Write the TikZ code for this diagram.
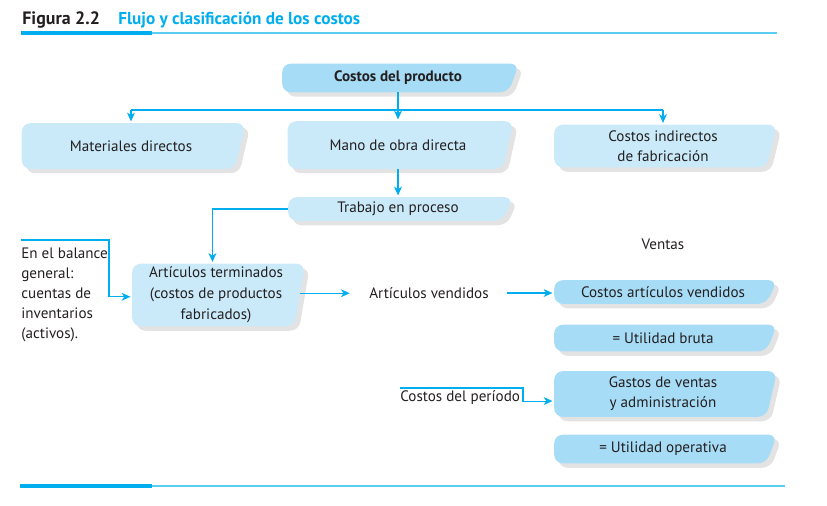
\documentclass[tikz,border=0pt]{standalone}
\usepackage{fontspec}
\setmainfont{PT Sans}
\usetikzlibrary{positioning,arrows.meta,shadows,backgrounds,calc}

\definecolor{cian}{RGB}{0,174,239}
\definecolor{celeste}{RGB}{90,205,243}
\definecolor{claro}{RGB}{202,234,249}
\definecolor{medio}{RGB}{166,220,246}
\definecolor{tinta}{RGB}{35,31,32}

% fondo de cada caja: esquina superior derecha salida, lado derecho inclinado
\newcommand{\tarjeta}[2]{%
  \fill[#2, rounded corners=5pt,
        drop shadow={shadow xshift=2.5pt,shadow yshift=-2.5pt,opacity=.22}]
    (#1.north west) -- ([xshift=3pt]#1.north east)
    -- ([xshift=-3pt]#1.south east) -- (#1.south west) -- cycle;}

\tikzset{
  caja/.style={rectangle, align=center, inner sep=1pt, text=tinta,
               minimum width=4.36cm, font=\fontsize{8.6}{11.5}\selectfont},
  texto/.style={inner sep=0pt, text=tinta, font=\fontsize{8.6}{11.5}\selectfont},
  flecha/.style={cian, line width=0.6pt, shorten >=1pt,
                 -{Stealth[length=5pt,width=4.5pt,inset=1.5pt]}},
  linea/.style={cian, line width=0.6pt}
}

\begin{document}
\begin{tikzpicture}[x=0.02cm,y=-0.02cm]
  \useasboundingbox (0,0) rectangle (827,505);

  % titulo
  \node[anchor=west, inner sep=0pt, text=tinta, font=\fontsize{10.2}{12}\selectfont\bfseries] (fig) at (22,20) {Figura 2.2};
  \node[anchor=west, inner sep=0pt, text=cian, font=\fontsize{9.8}{12}\selectfont\bfseries] (tit) at (118,20) {Flujo y clasificación de los costos};
  \draw[celeste, line width=0.8pt] (152,33) -- (777,33);
  \draw[cian, line width=1.8pt] (21,33) -- (152,33);
  \draw[celeste, line width=0.8pt] (152,486) -- (785,486);
  \draw[cian, line width=1.8pt] (20,486) -- (152,486);

  % cajas
  \node[caja, minimum width=4.62cm, minimum height=0.56cm, font=\fontsize{8.6}{11.5}\selectfont\bfseries] (prod) at (398,78) {Costos del producto};
  \node[caja, minimum height=0.9cm] (mat) at (131,146) {Materiales directos};
  \node[caja, minimum width=4.4cm, minimum height=0.94cm] (mano) at (398,145) {Mano de obra directa};
  \node[caja, minimum width=4.34cm, minimum height=0.84cm] (cif) at (663,146) {Costos indirectos\\de fabricación};
  \node[caja, minimum width=4.38cm, minimum height=0.46cm] (trab) at (398,209) {Trabajo en proceso};
  \node[caja, minimum width=3.34cm, minimum height=1.24cm, font=\fontsize{8.6}{12}\selectfont] (term) at (216,295) {Artículos terminados\\(costos de productos\\fabricados)};
  \node[caja, minimum width=4.34cm, minimum height=0.46cm] (cav) at (663,292) {Costos artículos vendidos};
  \node[caja, minimum width=4.34cm, minimum height=0.52cm] (ub) at (663,338) {= Utilidad bruta};
  \node[caja, minimum width=4.34cm, minimum height=0.9cm] (gav) at (663,394) {Gastos de ventas\\y administración};
  \node[caja, minimum width=4.34cm, minimum height=0.56cm] (uo) at (663,449) {= Utilidad operativa};

  % textos sueltos
  \node[texto, anchor=north west, align=left, font=\fontsize{8.6}{11.3}\selectfont] (bal) at (21,248)
    {En el balance\\general:\\cuentas de\\inventarios\\(activos).};
  \node[texto, inner xsep=10pt] (vend) at (429,293) {Artículos vendidos};
  \node[texto] (ventas) at (663,244) {Ventas};
  \node[texto, anchor=west] (per) at (400,398) {Costos del período};

  % fondos
  \begin{scope}[on background layer]
    \tarjeta{prod}{medio}
    \foreach \n in {mat,mano,cif,trab,term} {\tarjeta{\n}{claro}}
    \foreach \n in {cav,ub,gav,uo} {\tarjeta{\n}{medio}}
  \end{scope}

  % conectores
  \coordinate (rama) at (398,110);
  \draw[linea] (prod.south) -- (rama);
  \draw[linea] (rama -| mat.north) -- (rama -| cif.north);
  \draw[flecha] (rama -| mat.north) -- (mat.north);
  \draw[flecha] (rama) -- (mano.north);
  \draw[flecha] (rama -| cif.north) -- (cif.north);
  \draw[flecha] (mano.south) -- (trab.north);
  \draw[flecha] (trab.west) -| ([xshift=-2pt]term.north);
  \coordinate (bal0) at (21,240);
  \coordinate (bal1) at (109,240);
  \draw[flecha] (bal0) -- (bal1) |- ([yshift=-1pt]term.west);
  \draw[flecha] ([yshift=1pt]term.east) -- ([yshift=1pt]term.east -| vend.west);
  \draw[flecha] (vend.east) -- (vend.east -| cav.west);
  \coordinate (per0) at (400,388);
  \coordinate (per1) at (523,388);
  \draw[flecha] (per0) -- (per1) |- ([yshift=-4pt]gav.west);
\end{tikzpicture}
\end{document}
